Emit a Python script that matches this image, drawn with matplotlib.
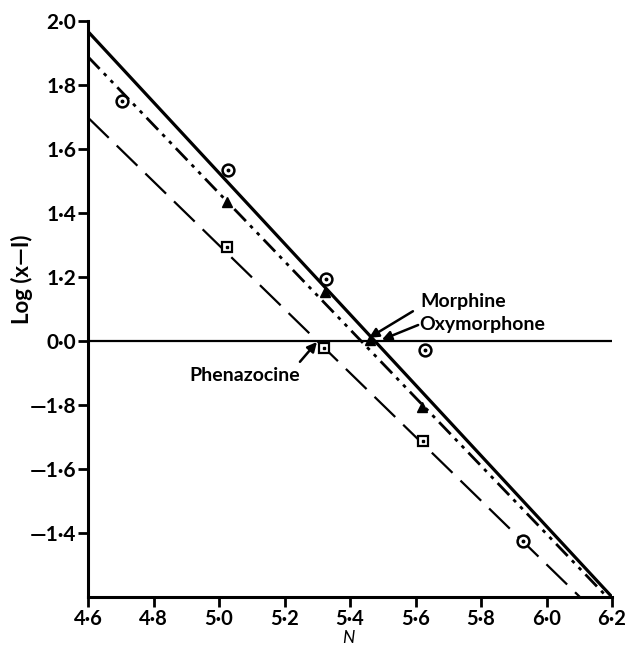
import matplotlib
matplotlib.use("Agg")
import matplotlib.pyplot as plt

# ---- data ----
# y positions are linear; tick labels follow the original (bar-notation) log labels
ytick_vals = [2.0, 1.8, 1.6, 1.4, 1.2, 1.0, 0.8, 0.6, 0.4]
ytick_labels = ["2·0", "1·8", "1·6", "1·4", "1·2", "0·0", "—1·8", "—1·6", "—1·4"]
xtick_vals = [4.6, 4.8, 5.0, 5.2, 5.4, 5.6, 5.8, 6.0, 6.2]
xtick_labels = ["4·6", "4·8", "5·0", "5·2", "5·4", "5·6", "5·8", "6·0", "6·2"]

# fitted lines (end points)
morphine_line_x = [4.6, 6.2]
morphine_line_y = [1.967, 0.2]
oxymorphone_line_x = [4.6, 6.185]
oxymorphone_line_y = [1.888, 0.2]
phenazocine_line_x = [4.6, 6.102]
phenazocine_line_y = [1.698, 0.2]

# reference horizontal line
ref_y = 1.0

# observed points
circle_x = [4.704, 5.027, 5.327, 5.629, 5.928]
circle_y = [1.751, 1.533, 1.193, 0.972, 0.374]
triangle_x = [5.024, 5.324, 5.461, 5.62]
triangle_y = [1.433, 1.153, 1.003, 0.794]
square_x = [5.024, 5.32, 5.623]
square_y = [1.293, 0.978, 0.688]

# labels, text positions, arrow starts and tips
labels = ["Morphine", "Oxymorphone", "Phenazocine"]
label_text_xy = [(5.614, 1.125), (5.612, 1.053), (5.079, 0.891)]
label_ha = ['left', 'left', 'center']
arrow_start = [(5.592, 1.093), (5.608, 1.050), (5.247, 0.935)]
arrow_tip = [(5.458, 1.010), (5.497, 1.004), (5.299, 0.997)]

plt.rcParams['font.family'] = ['Lato', 'DejaVu Sans']
plt.rcParams['font.weight'] = 'bold'

fig = plt.figure(figsize=(6.29, 6.47), dpi=100)
ax = fig.add_axes([0.140, 0.0773, 0.833, 0.8902])

ax.plot(morphine_line_x, morphine_line_y, color='black', lw=2.3, solid_capstyle='butt')
ax.plot(oxymorphone_line_x, oxymorphone_line_y, color='black', lw=2.0,
        dashes=(6, 2.2, 1.3, 2.2, 1.3, 2.2))
ax.plot(phenazocine_line_x, phenazocine_line_y, color='black', lw=1.6, dashes=(13, 5))
ax.plot([4.6, 6.2], [ref_y, ref_y], color='black', lw=1.6)

ax.plot(circle_x, circle_y, 'o', ms=8.5, mfc='white', mec='black', mew=1.8, zorder=5)
ax.plot(circle_x, circle_y, 'o', ms=1.8, color='black', zorder=6)
ax.plot(triangle_x, triangle_y, '^', ms=7.5, color='black', zorder=5)
ax.plot(square_x, square_y, 's', ms=6.5, mfc='white', mec='black', mew=1.6, zorder=5)
ax.plot(square_x, square_y, 's', ms=1.5, color='black', zorder=6)

for lab, txy, ha, st, tp in zip(labels, label_text_xy, label_ha, arrow_start, arrow_tip):
    ax.text(txy[0], txy[1], lab, fontsize=14, fontweight='bold', ha=ha, va='center')
    ax.annotate("", xy=tp, xytext=st,
                arrowprops=dict(arrowstyle='-|>', color='black', lw=1.8,
                                mutation_scale=14, shrinkA=0, shrinkB=0))

ax.set_xlim(4.6, 6.2)
ax.set_ylim(0.2, 2.0)
ax.set_xticks(xtick_vals)
ax.set_xticklabels(xtick_labels)
ax.set_yticks(ytick_vals)
ax.set_yticklabels(ytick_labels)
ax.tick_params(direction='out', length=7, width=2, labelsize=15)
ax.tick_params(axis='y', pad=1.5)
ax.tick_params(axis='x', labelsize=14.5, pad=2)
for lab in ax.get_xticklabels() + ax.get_yticklabels():
    lab.set_fontweight('bold')

for s in ['top', 'right']:
    ax.spines[s].set_visible(False)
for s in ['left', 'bottom']:
    ax.spines[s].set_linewidth(2.2)

ax.set_xlabel("N", fontsize=12.5, fontstyle='italic')
ax.xaxis.label.set_va('center')
ax.xaxis.set_label_coords(0.497, -0.072)
ax.set_ylabel("Log (x—I)", fontsize=16, fontweight='bold')
ax.yaxis.set_label_coords(-0.105, 0.552)

fig.savefig("out.png", dpi=100)
